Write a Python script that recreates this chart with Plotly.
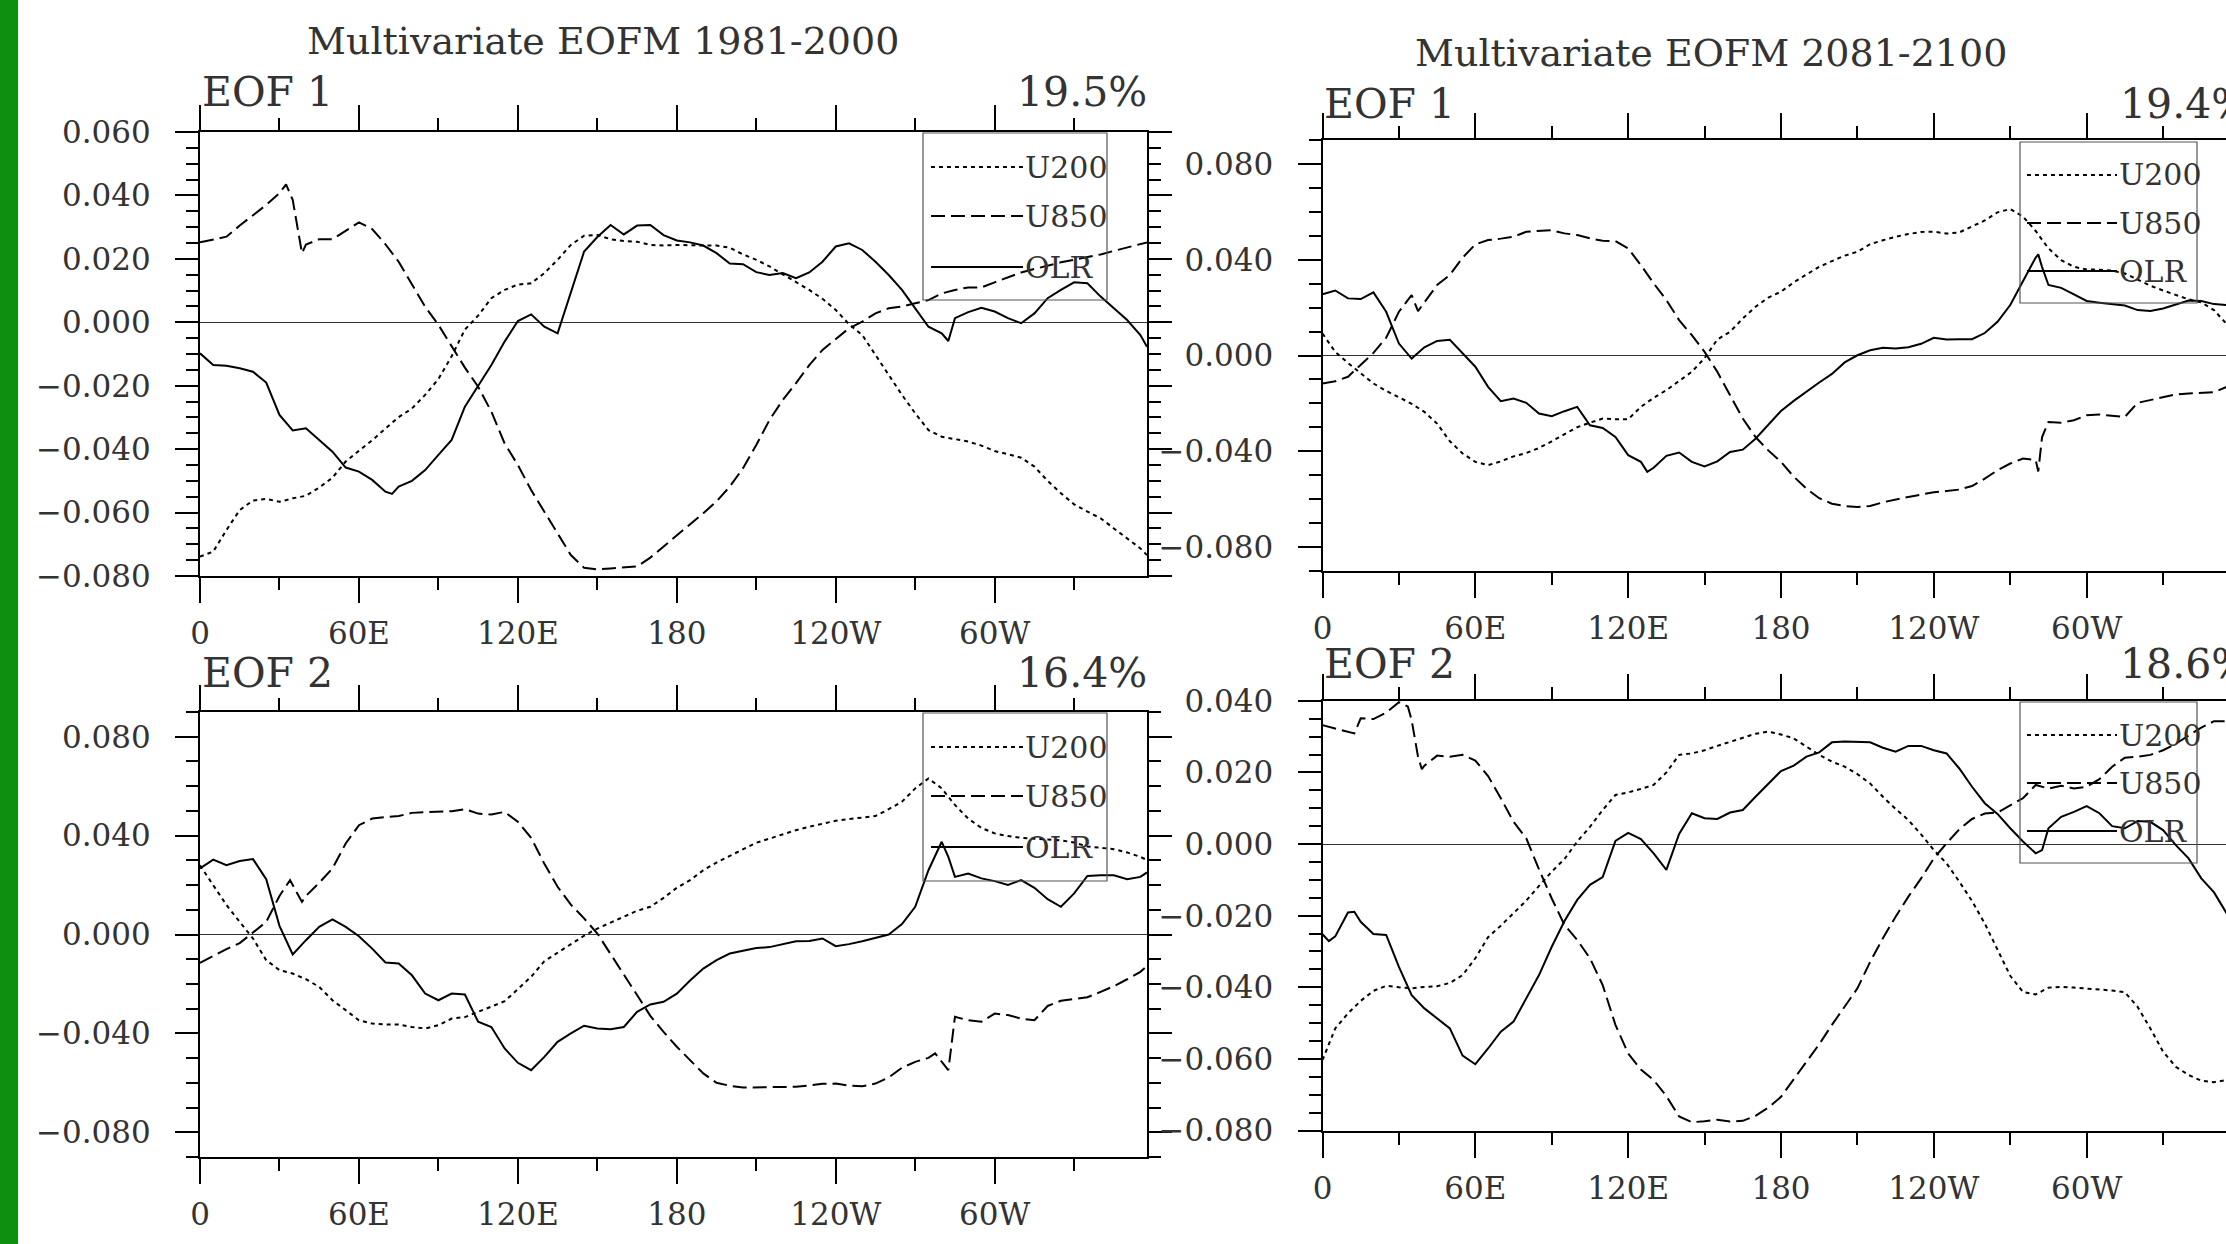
import plotly.graph_objects as go

# ---------------- data (longitude in degrees east, 0..357.5) ----------------
LON = [i * 5 for i in range(72)] + [357.5]

X_TICKVALS = [0, 60, 120, 180, 240, 300]
X_TICKTEXT = ["0", "60E", "120E", "180", "120W", "60W"]
X_MINOR = [30, 90, 150, 210, 270, 330]

# ---- 1981-2000, EOF 1 ----
TL_U200 = [-.0739, -.0723, -.0655, -.0592, -.0562, -.0557, -.0566, -.0555, -.0547, -.0521,
           -.0490, -.0439, -.0405, -.0372, -.0335, -.0299, -.0272, -.0229, -.0179, -.0107,
           -.0023, .0021, .0076, .0102, .0119, .0123, .0155, .0197, .0244, .0273,
           .0275, .0262, .0256, .0254, .0244, .0242, .0244, .0242, .0242, .0242,
           .0235, .0214, .0197, .0176, .0151, .0128, .0102, .0074, .0039, -.0006,
           -.0040, -.0103, -.0166, -.0229, -.0287, -.0340, -.0361, -.0369, -.0376, -.0389,
           -.0406, -.0416, -.0427, -.0455, -.0500, -.0539, -.0574, -.0597, -.0618, -.0650,
           -.0681, -.0713, -.0734]
TL_U850 = [.0252, .0260, .0270, .0305, .0338, .0370, .0407, .0386, .0245, .0262,
           .0262, .0288, .0315, .0294, .0246, .0191, .0118, .0049, -.0008, -.0075,
           -.0143, -.0203, -.0282, -.0382, -.0450, -.0529, -.0597, -.0669, -.0734, -.0774,
           -.0779, -.0776, -.0774, -.0770, -.0742, -.0707, -.0671, -.0639, -.0602, -.0565,
           -.0518, -.0460, -.0387, -.0308, -.0245, -.0192, -.0135, -.0087, -.0054, -.0019,
           .0002, .0028, .0044, .0050, .0060, .0070, .0091, .0102, .0110, .0110,
           .0126, .0141, .0157, .0168, .0179, .0189, .0197, .0205, .0214, .0225,
           .0235, .0246, .0252]
TL_U850_EXTRA = [(32.5, .0435), (38.5, .0218)]
TL_OLR = [-.0098, -.0135, -.0137, -.0145, -.0156, -.0190, -.0292, -.0341, -.0334, -.0371,
          -.0408, -.0458, -.0471, -.0497, -.0534, -.0518, -.0500, -.0466, -.0418, -.0371,
          -.0266, -.0200, -.0135, -.0061, .0004, .0025, -.0014, -.0035, .0091, .0223,
          .0269, .0307, .0277, .0305, .0307, .0275, .0258, .0252, .0242, .0218,
          .0185, .0183, .0158, .0149, .0155, .0139, .0157, .0191, .0239, .0249,
          .0228, .0191, .0149, .0102, .0044, -.0014, -.0035, .0013, .0032, .0046,
          .0034, .0013, -.0003, .0028, .0076, .0102, .0126, .0123, .0081, .0044,
          .0007, -.0040, -.0077]
TL_OLR_EXTRA = [(72.5, -.0541), (282.5, -.0059)]

# ---- 1981-2000, EOF 2 ----
BL_U200 = [.0280, .0200, .0119, .0051, -.0016, -.0104, -.0144, -.0158, -.0181, -.0212,
           -.0266, -.0306, -.0347, -.0360, -.0364, -.0364, -.0374, -.0380, -.0367, -.0340,
           -.0334, -.0313, -.0293, -.0270, -.0221, -.0171, -.0108, -.0073, -.0038, -.0005,
           .0024, .0049, .0074, .0096, .0112, .0148, .0189, .0220, .0260, .0291,
           .0318, .0345, .0371, .0388, .0406, .0422, .0436, .0449, .0460, .0467,
           .0473, .0479, .0507, .0537, .0591, .0631, .0591, .0524, .0469, .0431,
           .0409, .0398, .0391, .0387, .0384, .0381, .0372, .0356, .0351, .0345,
           .0332, .0314, .0301]
BL_U850 = [-.0115, -.0086, -.0059, -.0035, .0008, .0051, .0156, .0200, .0156, .0209,
           .0267, .0368, .0442, .0469, .0475, .0479, .0492, .0494, .0496, .0499,
           .0507, .0489, .0485, .0496, .0456, .0391, .0286, .0193, .0121, .0065,
           .0004, -.0077, -.0162, -.0245, -.0329, -.0394, -.0454, -.0508, -.0562, -.0600,
           -.0612, -.0619, -.0618, -.0616, -.0616, -.0616, -.0611, -.0604, -.0603, -.0611,
           -.0614, -.0603, -.0578, -.0539, -.0515, -.0499, -.0515, -.0333, -.0347, -.0353,
           -.0320, -.0326, -.0340, -.0347, -.0289, -.0268, -.0262, -.0254, -.0232, -.0209,
           -.0181, -.0151, -.0127]
BL_U850_EXTRA = [(34, .0220), (38.5, .0132), (277.5, -.0481), (282.5, -.0549)]
BL_OLR = [.0267, .0303, .0280, .0297, .0305, .0224, .0035, -.0081, -.0023, .0031,
          .0061, .0031, -.0007, -.0057, -.0113, -.0117, -.0165, -.0239, -.0266, -.0239,
          -.0243, -.0353, -.0374, -.0461, -.0519, -.0549, -.0495, -.0434, -.0400, -.0369,
          -.0380, -.0383, -.0374, -.0313, -.0283, -.0272, -.0239, -.0186, -.0138, -.0104,
          -.0077, -.0067, -.0055, -.0051, -.0038, -.0027, -.0026, -.0016, -.0047, -.0039,
          -.0027, -.0012, .0000, .0042, .0112, .0260, .0375, .0233, .0247, .0227,
          .0216, .0200, .0220, .0189, .0143, .0112, .0166, .0237, .0240, .0240,
          .0224, .0233, .0251]
BL_OLR_EXTRA = [(282.5, .0314)]

# ---- 2081-2100, EOF 1 ----
TR_U200 = [.0092, .0015, -.0031, -.0075, -.0117, -.0148, -.0176, -.0202, -.0236, -.0285,
           -.0359, -.0410, -.0445, -.0459, -.0443, -.0422, -.0408, -.0387, -.0359, -.0328,
           -.0300, -.0281, -.0264, -.0267, -.0267, -.0215, -.0177, -.0145, -.0108, -.0068,
           -.0011, .0067, .0099, .0155, .0204, .0242, .0267, .0306, .0339, .0371,
           .0395, .0418, .0434, .0466, .0482, .0497, .0508, .0517, .0518, .0510,
           .0515, .0540, .0565, .0599, .0613, .0581, .0521, .0448, .0399, .0371,
           .0360, .0359, .0355, .0343, .0316, .0292, .0272, .0253, .0235, .0222,
           .0190, .0131, .0110]
TR_U850 = [-.0117, -.0108, -.0089, -.0040, .0011, .0074, .0183, .0253, .0222, .0295,
           .0337, .0409, .0465, .0483, .0489, .0497, .0518, .0522, .0524, .0511,
           .0504, .0490, .0480, .0479, .0448, .0378, .0302, .0232, .0148, .0085,
           .0015, -.0068, -.0166, -.0264, -.0341, -.0397, -.0445, -.0507, -.0557, -.0597,
           -.0620, -.0630, -.0634, -.0630, -.0614, -.0602, -.0592, -.0582, -.0572, -.0567,
           -.0561, -.0546, -.0515, -.0480, -.0452, -.0431, -.0438, -.0278, -.0281, -.0271,
           -.0250, -.0247, -.0253, -.0257, -.0198, -.0187, -.0173, -.0163, -.0159, -.0158,
           -.0154, -.0131, -.0125]
TR_U850_EXTRA = [(37.5, .0186), (281, -.0485), (282.5, -.0341)]
TR_OLR = [.0256, .0272, .0239, .0236, .0264, .0183, .0050, -.0013, .0034, .0061,
          .0066, .0008, -.0047, -.0131, -.0191, -.0180, -.0198, -.0243, -.0254, -.0233,
          -.0215, -.0292, -.0303, -.0341, -.0417, -.0445, -.0470, -.0420, -.0406, -.0445,
          -.0464, -.0443, -.0404, -.0394, -.0348, -.0292, -.0232, -.0190, -.0150, -.0113,
          -.0077, -.0029, .0001, .0022, .0032, .0029, .0035, .0049, .0074, .0067,
          .0068, .0068, .0094, .0141, .0211, .0309, .0410, .0295, .0283, .0256,
          .0228, .0221, .0215, .0209, .0190, .0186, .0197, .0215, .0230, .0228,
          .0215, .0211, .0210]
TR_OLR_EXTRA = [(127.5, -.0487), (281, .0423), (282.5, .0370)]

# ---- 2081-2100, EOF 2 ----
BR_U200 = [-.0603, -.0515, -.0473, -.0438, -.0410, -.0396, -.0400, -.0403, -.0399, -.0397,
           -.0388, -.0366, -.0319, -.0260, -.0228, -.0194, -.0158, -.0117, -.0077, -.0042,
           .0007, .0048, .0095, .0137, .0144, .0154, .0165, .0200, .0249, .0253,
           .0262, .0274, .0285, .0295, .0308, .0314, .0306, .0295, .0272, .0249,
           .0230, .0216, .0195, .0169, .0132, .0098, .0067, .0027, -.0017, -.0054,
           -.0105, -.0159, -.0222, -.0296, -.0368, -.0413, -.0420, -.0401, -.0399, -.0401,
           -.0403, -.0406, -.0409, -.0414, -.0455, -.0515, -.0580, -.0622, -.0645, -.0661,
           -.0665, -.0659, -.0655]
BR_U850 = [.0332, .0322, .0312, .0351, .0349, .0367, .0396, .0346, .0219, .0247,
           .0244, .0249, .0233, .0190, .0128, .0062, .0016, -.0071, -.0152, -.0226,
           -.0268, -.0319, -.0394, -.0505, -.0585, -.0630, -.0659, -.0704, -.0761, -.0777,
           -.0774, -.0770, -.0775, -.0773, -.0759, -.0736, -.0706, -.0657, -.0608, -.0559,
           -.0505, -.0454, -.0403, -.0329, -.0263, -.0203, -.0147, -.0096, -.0040, .0002,
           .0041, .0070, .0085, .0088, .0107, .0128, .0165, .0155, .0163, .0155,
           .0160, .0181, .0216, .0241, .0244, .0249, .0262, .0280, .0303, .0325,
           .0343, .0343, .0340]
BR_U850_EXTRA = [(12.5, .0309), (33.5, .0384), (37.5, .0244), (39, .0209)]
BR_OLR = [-.0252, -.0258, -.0191, -.0217, -.0251, -.0254, -.0343, -.0422, -.0459, -.0487,
          -.0515, -.0591, -.0615, -.0571, -.0524, -.0496, -.0429, -.0366, -.0287, -.0215,
          -.0156, -.0114, -.0092, .0009, .0031, .0014, -.0026, -.0072, .0028, .0086,
          .0072, .0070, .0088, .0095, .0132, .0169, .0204, .0219, .0244, .0256,
          .0284, .0286, .0286, .0284, .0269, .0258, .0274, .0274, .0262, .0253,
          .0211, .0160, .0114, .0084, .0044, .0007, -.0026, .0044, .0076, .0090,
          .0106, .0086, .0050, .0044, .0064, .0062, .0039, -.0003, -.0040, -.0096,
          -.0135, -.0194, -.0210]
BR_OLR_EXTRA = [(2.5, -.0271), (12.5, -.0189), (282.5, -.0017)]

TITLES = ["Multivariate EOFM 1981-2000", "Multivariate EOFM 2081-2100"]
PCT = {"TL": "19.5%", "BL": "16.4%", "TR": "19.4%", "BR": "18.6%"}
LEG_NAMES = ["U200", "U850", "OLR"]

# ---------------- layout helpers ----------------
W, H = 2226, 1244
FONT = "DejaVu Serif"
TXT = "#333333"


def fx(px):
    return px / W


def fy(py):
    return 1 - py / H


def merge(base, extra=()):
    pts = list(zip(LON, base)) + list(extra)
    pts.sort(key=lambda p: p[0])
    return [p[0] for p in pts], [p[1] for p in pts]


DASH = {"U200": "4px,4px", "U850": "14px,6px", "OLR": "solid"}

panels = [
    dict(key="TL", ax="", xd=(200, 1147), yd=(132, 576), xr=[0, 357.5], yr=[-0.08, 0.06],
         yt=[-0.08, -0.06, -0.04, -0.02, 0, 0.02, 0.04, 0.06], ym=0.005, mir=True,
         series=[("U200", TL_U200, ()), ("U850", TL_U850, TL_U850_EXTRA), ("OLR", TL_OLR, TL_OLR_EXTRA)]),
    dict(key="BL", ax="2", xd=(200, 1147), yd=(712, 1157), xr=[0, 357.5], yr=[-0.09, 0.09],
         yt=[-0.08, -0.04, 0, 0.04, 0.08], ym=0.01, mir=True,
         series=[("U200", BL_U200, ()), ("U850", BL_U850, BL_U850_EXTRA), ("OLR", BL_OLR, BL_OLR_EXTRA)]),
    dict(key="TR", ax="3", xd=(1322.5, 2226), yd=(140.4, 570.6), xr=[0, 354.7], yr=[-0.09, 0.09],
         yt=[-0.08, -0.04, 0, 0.04, 0.08], ym=0.01, mir=False,
         series=[("U200", TR_U200, ()), ("U850", TR_U850, TR_U850_EXTRA), ("OLR", TR_OLR, TR_OLR_EXTRA)]),
    dict(key="BR", ax="4", xd=(1322.5, 2226), yd=(700.8, 1130.5), xr=[0, 354.7], yr=[-0.08, 0.04],
         yt=[-0.08, -0.06, -0.04, -0.02, 0, 0.02, 0.04], ym=0.005, mir=False,
         series=[("U200", BR_U200, ()), ("U850", BR_U850, BR_U850_EXTRA), ("OLR", BR_OLR, BR_OLR_EXTRA)]),
]

fig = go.Figure()
layout = {}
for p in panels:
    xa = "xaxis" + p["ax"]
    ya = "yaxis" + p["ax"]
    xref = "x" + p["ax"]
    yref = "y" + p["ax"]
    for name, vals, extra in p["series"]:
        xs, ys = merge(vals, extra)
        fig.add_trace(go.Scatter(x=xs, y=ys, mode="lines", name=name,
                                 line=dict(color="black", width=2, dash=DASH[name]),
                                 xaxis=xref, yaxis=yref, hoverinfo="skip", showlegend=False))
    layout[xa] = dict(
        domain=[fx(p["xd"][0]), fx(p["xd"][1])], range=p["xr"], anchor=yref,
        automargin=False,
        tickmode="array", tickvals=X_TICKVALS, ticktext=X_TICKTEXT,
        ticks="outside", ticklen=25, tickwidth=2, tickcolor="black",
        showline=True, linewidth=2, linecolor="black", mirror="ticks",
        showgrid=False, zeroline=False, ticklabelstandoff=4,
        tickfont=dict(family=FONT, size=31, color=TXT),
        minor=dict(tickmode="array", tickvals=X_MINOR, ticks="outside", ticklen=12,
                   tickwidth=1.5, tickcolor="black", showgrid=False),
    )
    layout[ya] = dict(
        domain=[fy(p["yd"][1]), fy(p["yd"][0])], range=p["yr"], anchor=xref,
        automargin=False,
        tickmode="array", tickvals=p["yt"], tickformat=".3f",
        ticks="outside", ticklen=23, tickwidth=2, tickcolor="black",
        showline=True, linewidth=2, linecolor="black",
        mirror="ticks" if p["mir"] else False,
        showgrid=False, zeroline=True, zerolinecolor="#333333", zerolinewidth=1,
        ticklabelstandoff=18,
        tickfont=dict(family=FONT, size=31, color=TXT),
        minor=dict(dtick=p["ym"], tick0=0, ticks="outside", ticklen=12,
                   tickwidth=1.5, tickcolor="black", showgrid=False),
    )

annotations = []
shapes = []


def text(s, x, y, size, anchor="left"):
    annotations.append(dict(text=s, x=fx(x), y=fy(y), xref="paper", yref="paper",
                            xanchor=anchor, yanchor="middle", showarrow=False,
                            font=dict(family=FONT, size=size, color=TXT)))


text(TITLES[0], 603, 41, 38, "center")
text(TITLES[1], 1711, 53, 38, "center")
text("EOF 1", 200, 92, 41)
text(PCT["TL"], 1149, 92, 41, "right")
text("EOF 2", 200, 673, 41)
text(PCT["BL"], 1149, 673, 41, "right")
text("EOF 1", 1322, 104, 41)
text(PCT["TR"], 2118, 104, 41)
text("EOF 2", 1322, 664, 41)
text(PCT["BR"], 2118, 664, 41)

legends = [
    (923, 1107, 133, 300, 931, 1023, [167, 216, 267]),
    (923, 1107, 713, 881, 931, 1023, [747, 796, 847]),
    (2020, 2197, 142, 303, 2027, 2117, [175, 223, 271]),
    (2020, 2197, 702, 863, 2027, 2117, [735, 783, 831]),
]
for bx0, bx1, by0, by1, lx0, lx1, iys in legends:
    shapes.append(dict(type="rect", xref="paper", yref="paper",
                       x0=fx(bx0), x1=fx(bx1), y0=fy(by1), y1=fy(by0),
                       line=dict(color="#555555", width=1.2), fillcolor="rgba(0,0,0,0)"))
    for name, iy in zip(LEG_NAMES, iys):
        shapes.append(dict(type="line", xref="paper", yref="paper",
                           x0=fx(lx0), x1=fx(lx1), y0=fy(iy), y1=fy(iy),
                           line=dict(color="black", width=2, dash=DASH[name])))
        text(name, lx1, iy, 30)

shapes.append(dict(type="rect", xref="paper", yref="paper", x0=0, x1=fx(18), y0=0, y1=1,
                   line=dict(width=0), fillcolor="#0f8f0f", layer="above"))

fig.update_layout(template="none", width=W, height=H,
                  margin=dict(l=0, r=0, t=0, b=0, pad=0, autoexpand=False),
                  paper_bgcolor="white", plot_bgcolor="white", showlegend=False,
                  annotations=annotations, shapes=shapes, **layout)

fig.write_html("out.html", config={"displayModeBar": False},
               post_script="document.body.style.margin='0px';document.body.style.overflow='hidden';")
